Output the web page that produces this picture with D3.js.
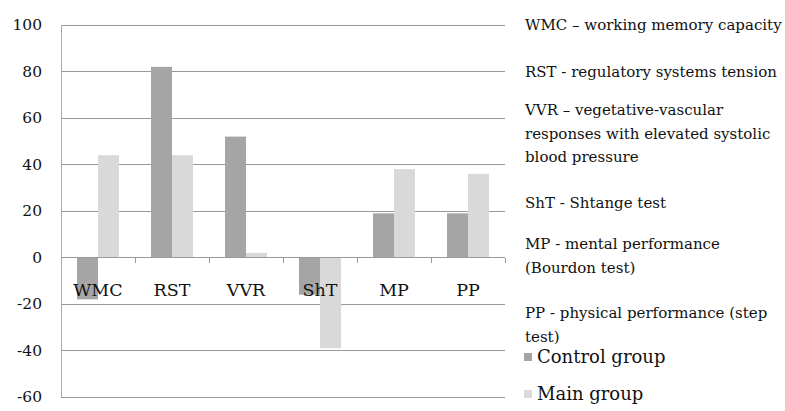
<!DOCTYPE html>
<html><head><meta charset="utf-8">
<script src="https://cdn.jsdelivr.net/npm/d3@7"></script>
<style>body{margin:0;background:#fff}text{font-family:"Palatino Linotype","Book Antiqua",Palatino,"DejaVu Serif",serif;fill:#111}</style>
</head><body><svg id="c" width="785" height="411"></svg>
<script>
const categories = ["WMC","RST","VVR","ShT","MP","PP"];
const controlGroup = [-18, 82, 52, -16, 19, 19];
const mainGroup = [44, 44, 2, -39, 38, 36];
const yTicks = [100, 80, 60, 40, 20, 0, -20, -40, -60];
const seriesNames = ["Control group", "Main group"];
const notes = [
  ["WMC – working memory capacity"],
  ["RST - regulatory systems tension"],
  ["VVR – vegetative-vascular", "responses with elevated systolic", "blood pressure"],
  ["ShT - Shtange test"],
  ["MP - mental performance", "(Bourdon test)"],
  ["PP - physical performance (step", "test)"]
];
const noteY = [25, 72, 110, 203, 244, 313];
const colors = ["#a5a5a5", "#d9d9d9"];

const svg = d3.select("#c");
const L = 61, R = 505, T = 25, B = 397;
const y = d3.scaleLinear().domain([-60, 100]).range([B, T]);
const x = d3.scaleBand().domain(categories).range([L, R]).paddingInner(0).paddingOuter(0);
const bw = 21;

svg.append("g").selectAll("line").data(yTicks).join("line")
  .attr("x1", L).attr("x2", R).attr("y1", d => y(d)).attr("y2", d => y(d))
  .attr("stroke", "#999").attr("stroke-width", 1).attr("shape-rendering", "crispEdges");
svg.append("g").selectAll("text").data(yTicks).join("text")
  .attr("x", 42).attr("y", d => y(d)).attr("dy", "0.35em").attr("text-anchor", "end")
  .attr("font-size", 15.5).text(d => d);
svg.append("line").attr("x1", L).attr("x2", L).attr("y1", T).attr("y2", B)
  .attr("stroke", "#aaa").attr("shape-rendering", "crispEdges");

const data = categories.map((c, i) => ({c, v: [controlGroup[i], mainGroup[i]]}));
const g = svg.append("g");
data.forEach(d => {
  d.v.forEach((v, k) => {
    const cx = x(d.c) + x.bandwidth() / 2;
    g.append("rect")
      .attr("x", cx - bw + k * bw).attr("width", bw)
      .attr("y", y(Math.max(0, v))).attr("height", Math.abs(y(v) - y(0)))
      .attr("fill", colors[k]);
  });
});
svg.append("line").attr("x1", L).attr("x2", R).attr("y1", y(0)).attr("y2", y(0))
  .attr("stroke", "#999").attr("shape-rendering", "crispEdges");
svg.append("g").selectAll("line").data(categories).join("line")
  .attr("x1", d => x(d) + x.bandwidth()).attr("x2", d => x(d) + x.bandwidth())
  .attr("y1", y(0)).attr("y2", y(0) + 5)
  .attr("stroke", "#999").attr("shape-rendering", "crispEdges");
svg.append("g").selectAll("text").data(categories).join("text")
  .attr("x", d => x(d) + x.bandwidth() / 2).attr("y", y(0) + 38)
  .attr("text-anchor", "middle").attr("font-size", 17.5).text(d => d);

const ng = svg.append("g");
notes.forEach((lines, i) => {
  lines.forEach((t, j) => {
    ng.append("text").attr("x", 525).attr("y", noteY[i] + j * 23.5).attr("dy", "0.35em")
      .attr("font-size", 15).text(t);
  });
});
seriesNames.forEach((s, k) => {
  const ly = 357 + k * 37;
  svg.append("rect").attr("x", 524).attr("y", ly - 4).attr("width", 8).attr("height", 8).attr("fill", colors[k]);
  svg.append("text").attr("x", 537).attr("y", ly).attr("dy", "0.35em").attr("font-size", 18).text(s);
});
</script></body></html>
